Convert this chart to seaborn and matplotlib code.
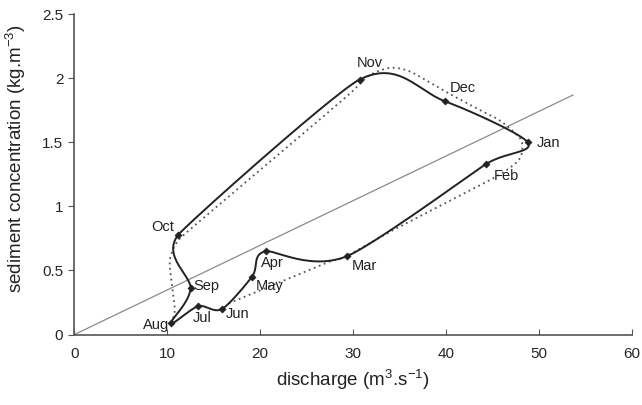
import numpy as np
import seaborn as sns
import matplotlib.pyplot as plt

# monthly points of the hysteresis loop (hydrological year Sep -> Aug)
months = ["Sep", "Oct", "Nov", "Dec", "Jan", "Feb", "Mar", "Apr", "May", "Jun", "Jul", "Aug"]
discharge = [12.5, 11.2, 30.7, 39.9, 48.8, 44.3, 29.3, 20.6, 19.1, 15.9, 13.3, 10.4]
concentration = [0.36, 0.78, 1.99, 1.82, 1.50, 1.33, 0.61, 0.65, 0.45, 0.20, 0.22, 0.09]

# dotted loop
dot_x = [10.4, 10.8, 10.3, 10.4, 11.5, 17.8, 24.0, 29.5, 31.5, 33.3, 34.7, 36.5, 40.1,
         43.7, 45.8, 47.6, 48.2, 47.8, 45.1, 34.7, 29.3, 27.5, 16.5]
dot_y = [0.09, 0.20, 0.50, 0.62, 0.76, 1.15, 1.53, 1.87, 2.01, 2.07, 2.08, 2.04, 1.89,
         1.75, 1.67, 1.56, 1.49, 1.36, 1.22, 0.83, 0.61, 0.57, 0.24]

# straight reference line
line_x = [0, 53.7]
line_y = [0, 1.87]

# label offsets in pixels (dx, dy)
label_offsets = {"Sep": (16, 2), "Oct": (-16, 8), "Nov": (10, 17), "Dec": (18, 13),
                 "Jan": (9, -1), "Feb": (20, -12), "Mar": (18, -10), "Apr": (7, -12),
                 "May": (18, -9), "Jun": (15, -5), "Jul": (4, -12), "Aug": (-15, -2)}

W, H = 6.42, 4.05
AX = [0.116, 0.174, 0.868, 0.791]
# pixels per data unit, so the smoothing works in screen space
sx = AX[2] * W * 100 / 60
sy = AX[3] * H * 100 / 2.5


def smooth(xs, ys, closed=False, n=30):
    # smoothed line: bezier with catmull-rom tangent directions,
    # arms kept short next to short segments
    P = np.column_stack([np.array(xs) * sx, np.array(ys) * sy])
    N = len(P)
    idx = lambda k: k % N if closed else min(max(k, 0), N - 1)
    dist = lambda a, b: np.linalg.norm(P[idx(a)] - P[idx(b)])

    def arm(i, j, o):
        # control arm at point i on the side of neighbour j (o = other neighbour)
        v = (P[idx(i + 1)] - P[idx(i - 1)]) / 6
        d_this, d_other = dist(i, j), dist(i, o)
        if d_other == 0:
            d_other = d_this
        cap = min(d_this, d_other) / 2
        norm = np.linalg.norm(v)
        if norm > cap:
            v = v * cap / norm
        return v * np.sqrt(min(1.0, d_other / d_this))

    t = np.linspace(0, 1, n)[:, None]
    segs = []
    last = N if closed else N - 1
    for i in range(last):
        j = idx(i + 1)
        p1, p2 = P[i], P[j]
        c1 = p1 + arm(i, i + 1, i - 1)
        c2 = p2 - arm(i + 1, i, i + 2)
        segs.append((1 - t) ** 3 * p1 + 3 * (1 - t) ** 2 * t * c1
                    + 3 * (1 - t) * t ** 2 * c2 + t ** 3 * p2)
    out = np.vstack(segs)
    return out[:, 0] / sx, out[:, 1] / sy


sns.set_style("ticks")
plt.rcParams['font.family'] = ['Liberation Sans', 'DejaVu Sans']
plt.rcParams['mathtext.default'] = 'regular'

fig = plt.figure(figsize=(W, H), dpi=100)
ax = fig.add_axes(AX)

solid_x, solid_y = smooth(discharge, concentration, closed=True)
dotted_x, dotted_y = smooth(dot_x, dot_y)

sns.lineplot(x=line_x, y=line_y, color="#8a8a8a", linewidth=0.9, ax=ax)
sns.lineplot(x=dotted_x, y=dotted_y, sort=False, estimator=None,
             color="#555555", linewidth=1.3, linestyle=(0, (1, 2)), ax=ax)
sns.lineplot(x=solid_x, y=solid_y, sort=False, estimator=None,
             color="#222222", linewidth=1.4, ax=ax)
sns.scatterplot(x=discharge, y=concentration, marker="D", s=14, color="#222222",
                edgecolor="#222222", zorder=5, ax=ax)

for m, xv, yv in zip(months, discharge, concentration):
    dx, dy = label_offsets[m]
    ha = "left" if m == "Jan" else "center"
    ax.annotate(m, (xv, yv), xytext=(dx, dy), textcoords="offset pixels",
                ha=ha, va="center", fontsize=10.5, color="#222222")

ax.set_xlim(0, 60)
ax.set_ylim(0, 2.5)
ax.set_xticks(range(0, 61, 10))
ax.set_yticks([0, 0.5, 1, 1.5, 2, 2.5])
ax.set_yticklabels(["0", "0.5", "1", "1.5", "2", "2.5"])
ax.tick_params(axis="x", direction="in", length=4, pad=9, labelsize=11, color="#555555")
ax.tick_params(axis="y", direction="out", length=4, pad=4, labelsize=11, color="#555555")
for side in ["top", "right"]:
    ax.spines[side].set_visible(False)
for side in ["left", "bottom"]:
    ax.spines[side].set_color("#555555")
    ax.spines[side].set_linewidth(1.2)

ax.set_xlabel("discharge (m$^{3}$.s$^{-1}$)", fontsize=13.5, color="#222222")
ax.set_ylabel("sediment concentration (kg.m$^{-3}$)", fontsize=13.5, color="#222222")
ax.xaxis.set_label_coords(0.5, -0.105)
ax.yaxis.set_label_coords(-0.083, 0.55)

fig.savefig("out.png", dpi=100)
